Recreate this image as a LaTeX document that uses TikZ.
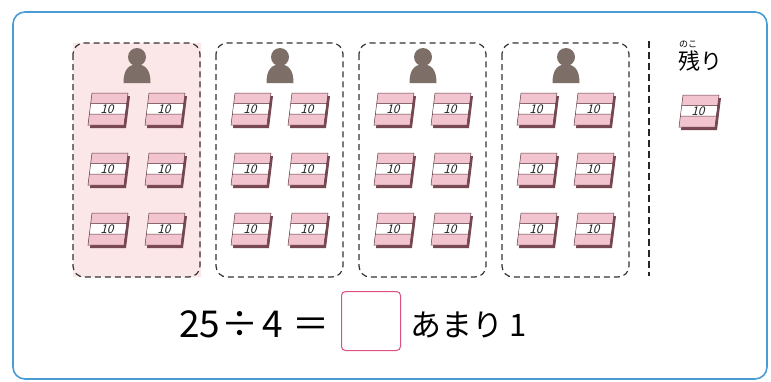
\documentclass[tikz,border=0pt]{standalone}
\usepackage{fontspec}
\setmainfont{Noto Sans CJK JP}
\usepackage{xcolor}
\usetikzlibrary{positioning}
\definecolor{framblue}{RGB}{74, 156, 214}
\definecolor{grouppink}{RGB}{251, 231, 231}
\definecolor{bandpink}{RGB}{242, 196, 208}
\definecolor{bookedge}{RGB}{120, 72, 82}
\definecolor{persongray}{RGB}{125, 110, 104}
\definecolor{anspink}{RGB}{220, 80, 130}

\begin{document}
\begin{tikzpicture}[
        x=1pt, y=-1pt,
        group/.style={draw=black!80, dashed, dash pattern=on 6pt off 4pt, line width=1.2pt, rounded corners=11pt},
        ansbox/.style={draw=anspink, line width=1pt, rounded corners=4pt, minimum width=59pt, minimum height=59pt},
        bigtext/.style={font=\fontsize{37}{40}\selectfont, inner sep=0pt},
        kanatext/.style={font=\fontsize{31}{34}\selectfont, inner sep=0pt},
        book/.pic={
            % thickness of the block
            \fill[bookedge] (6,3) -- (42,3) -- (38,35) -- (2,35) -- cycle;
            % pink / white / pink bands
            \fill[bandpink] (4,0) -- (40,0) -- (38.6,10.5) -- (2.6,10.5) -- cycle;
            \fill[white] (2.6,10.5) -- (38.6,10.5) -- (37.2,21) -- (1.2,21) -- cycle;
            \fill[bandpink] (1.2,21) -- (37.2,21) -- (36,32) -- (0,32) -- cycle;
            \draw[bookedge!80!black, line width=0.5pt] (4,0) -- (40,0) -- (36,32) -- (0,32) -- cycle
                (2.6,10.5) -- (38.6,10.5) (1.2,21) -- (37.2,21);
            \node[font=\fontsize{12}{12}\selectfont, xslant=0.25, text=black!85, inner sep=0pt] (-n) at (20,16) {10};
        },
        person/.pic={
            \fill[persongray] (0,0) circle (9pt);
            \fill[persongray] (-13.5,26) .. controls (-13.5,12) and (-8,7.5) .. (0,7.5)
                .. controls (8,7.5) and (13.5,12) .. (13.5,26) -- cycle;
        }
    ]
        \useasboundingbox (0,0) rectangle (771,381);

        % outer frame
        \draw[framblue, line width=1.6pt, rounded corners=12pt] (13,12) rectangle (767,379);

        % the four shares
        \fill[grouppink] (73,43) rectangle (201,277);
        \foreach \gx [count=\g] in {73, 216, 359, 502} {
            \draw[group] (\gx,43) rectangle ++(127,234);
            \pic (p\g) at (\gx+64,57) {person};
            \foreach \row [count=\r] in {93, 153, 213} {
                \pic (b\g\r a) at (\gx+15,\row) {book};
                \pic (b\g\r b) at (\gx+72,\row) {book};
            }
        }

        % what is left over
        \draw[black!85, dash pattern=on 7pt off 4pt, line width=1.8pt] (649,41) -- (649,276);
        \node[font=\fontsize{9}{9}\selectfont, inner sep=0pt] (ruby) at (688,44) {のこ};
        \node[font=\fontsize{22}{24}\selectfont, inner sep=0pt] (nokori) at (700,61) {残り};
        \pic (rest) at (679,95) {book};

        % equation
        \node[bigtext, anchor=base west] (eq) at (179,337) {25\hspace{1pt}÷\hspace{4pt}4\hspace{10pt}＝};
        \node[ansbox, anchor=west] (ans) at (341,321) {};
        \node[kanatext, anchor=base west] (amari) at (410,336) {あまり\hspace{6pt}1};
    \end{tikzpicture}
\end{document}
